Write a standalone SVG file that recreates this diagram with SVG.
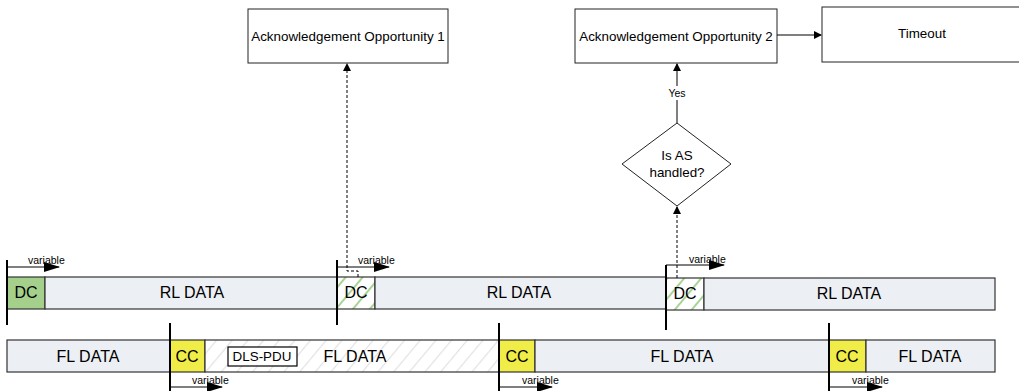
<svg xmlns="http://www.w3.org/2000/svg" width="1019" height="391" viewBox="0 0 1019 391">
<defs>
<style>
text{font-family:"Liberation Sans",Arial,sans-serif;fill:#000}
.box{fill:#fff;stroke:#222;stroke-width:1}
.seg{stroke:#333;stroke-width:1.2}
.data{fill:#ECEFF4}
.dc{fill:#A4D08C}
.cc{fill:#F0EC48}
.big{font-size:16px;text-anchor:middle}
.lbl{font-size:13.4px;text-anchor:middle}
.var{font-size:10.5px}
.mark{stroke:#000;stroke-width:2;fill:none}
.conn{stroke:#000;stroke-width:1;fill:none}
.dash{stroke:#000;stroke-width:1;fill:none;stroke-dasharray:3,2}
</style>
<pattern id="hg" patternUnits="userSpaceOnUse" width="13" height="13" patternTransform="rotate(40)">
<rect width="13" height="13" fill="#fff"/>
<rect x="0" y="0" width="2" height="13" fill="#A8D494"/>
</pattern>
<pattern id="hf" patternUnits="userSpaceOnUse" width="12" height="12" patternTransform="rotate(40)">
<rect width="12" height="12" fill="#fff"/>
<rect x="0" y="0" width="1.2" height="12" fill="#E2E2E2"/>
</pattern>
<marker id="ah" markerWidth="8" markerHeight="8" refX="7" refY="4" orient="auto" markerUnits="userSpaceOnUse">
<path d="M0,0 L8,4 L0,8 Z" fill="#000"/>
</marker>
<marker id="va" markerWidth="16" markerHeight="10" refX="15" refY="5" orient="auto" markerUnits="userSpaceOnUse">
<path d="M0,0 L16,5 L0,10 Z" fill="#000"/>
</marker>
</defs>

<g id="ack1"><rect class="box" x="248" y="9" width="200" height="54"/><text class="lbl" x="348" y="41">Acknowledgement Opportunity 1</text></g>
<g id="ack2"><rect class="box" x="575" y="9" width="202" height="54"/><text class="lbl" x="676" y="41">Acknowledgement Opportunity 2</text></g>
<g id="timeout"><rect class="box" x="822" y="7" width="210" height="55"/><text class="lbl" x="922" y="38">Timeout</text></g>
<g id="decision"><path class="box" d="M677,123 L731,164 L677,206 L622,164 Z"/><text class="lbl" x="677" y="160">Is AS</text><text class="lbl" x="677" y="177">handled?</text></g>

<g id="rl-row">
<rect class="seg dc" x="7" y="277" width="38" height="32"/><text class="big" x="26" y="298">DC</text>
<rect class="seg data" x="45" y="277" width="292" height="32"/><text class="big" x="192" y="298">RL DATA</text>
<rect class="seg" fill="url(#hg)" x="337" y="277" width="38" height="32"/><text class="big" x="356" y="298">DC</text>
<rect class="seg data" x="375" y="277" width="291" height="32"/><text class="big" x="519" y="298">RL DATA</text>
<rect class="seg" fill="url(#hg)" x="666" y="278" width="38" height="32"/><text class="big" x="685" y="299">DC</text>
<rect class="seg data" x="704" y="278" width="291" height="32"/><text class="big" x="849" y="299">RL DATA</text>
</g>

<g id="fl-row">
<rect class="seg data" x="7" y="340" width="163" height="32"/><text class="big" x="88" y="362">FL DATA</text>
<rect class="seg cc" x="170" y="340" width="35" height="32"/><text class="big" x="187" y="362">CC</text>
<rect class="seg" fill="url(#hf)" x="205" y="340" width="294" height="32"/><text class="big" x="355" y="362">FL DATA</text>
<g id="dlspdu"><rect fill="#fff" stroke="#000" stroke-width="1.2" x="228" y="347" width="69" height="19"/><text class="lbl" x="262" y="361">DLS-PDU</text></g>
<rect class="seg cc" x="499" y="340" width="36" height="32"/><text class="big" x="517" y="362">CC</text>
<rect class="seg data" x="535" y="340" width="294" height="32"/><text class="big" x="682" y="362">FL DATA</text>
<rect class="seg cc" x="829" y="340" width="37" height="32"/><text class="big" x="847" y="362">CC</text>
<rect class="seg data" x="866" y="340" width="129" height="32"/><text class="big" x="930" y="362">FL DATA</text>
</g>

<g id="markers">
<line class="mark" x1="7" y1="260" x2="7" y2="325"/>
<line class="mark" x1="337" y1="260" x2="337" y2="325"/>
<line class="mark" x1="666" y1="265" x2="666" y2="330"/>
<line class="mark" x1="170" y1="323" x2="170" y2="391"/>
<line class="mark" x1="499" y1="323" x2="499" y2="391"/>
<line class="mark" x1="829" y1="323" x2="829" y2="391"/>
<line class="conn" x1="7" y1="267" x2="59" y2="267" marker-end="url(#va)"/>
<text class="var" x="28" y="264">variable</text>
<line class="conn" x1="337" y1="267" x2="389" y2="267" marker-end="url(#va)"/>
<text class="var" x="358" y="264">variable</text>
<line class="conn" x1="666" y1="265" x2="724" y2="265" marker-end="url(#va)"/>
<text class="var" x="689" y="263">variable</text>
<line class="conn" x1="170" y1="387" x2="222" y2="387" marker-end="url(#va)"/>
<text class="var" x="192" y="384">variable</text>
<line class="conn" x1="499" y1="387" x2="552" y2="387" marker-end="url(#va)"/>
<text class="var" x="522" y="384">variable</text>
<line class="conn" x1="829" y1="387" x2="882" y2="387" marker-end="url(#va)"/>
<text class="var" x="852" y="384">variable</text>
</g>

<g id="connectors">
<path class="dash" d="M358,277 L358,271 L347,271 L347,64" marker-end="url(#ah)"/>
<path class="dash" d="M677,278 L677,207" marker-end="url(#ah)"/>
<path class="conn" d="M677,123 L677,64" marker-end="url(#ah)"/>
<rect x="664" y="86" width="26" height="14" fill="#fff"/>
<text class="var" x="677" y="97" text-anchor="middle">Yes</text>
<path class="conn" d="M777,35 L821,35" marker-end="url(#ah)"/>
</g>
</svg>
